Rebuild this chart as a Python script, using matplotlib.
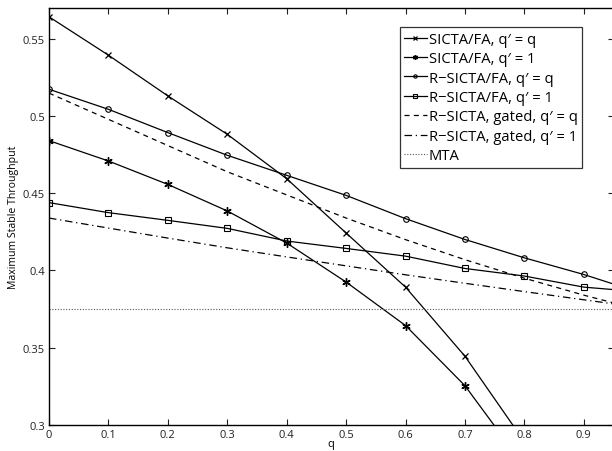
import numpy as np
import matplotlib.pyplot as plt
from matplotlib.ticker import FixedLocator, FuncFormatter

plt.rcParams['font.family'] = ['Open Sans', 'DejaVu Sans']

q = [0.0, 0.1, 0.2, 0.3, 0.4, 0.5, 0.6, 0.7, 0.8, 0.9, 1.0]

sicta_fa_qq = [0.5645, 0.5396, 0.5132, 0.4883, 0.4595, 0.4243, 0.3892, 0.3444, 0.289]
sicta_fa_q1 = [0.4842, 0.4710, 0.4558, 0.4386, 0.4178, 0.3925, 0.3643, 0.3253, 0.273]
rsicta_fa_qq = [0.5175, 0.5045, 0.4894, 0.4747, 0.4617, 0.4487, 0.4336, 0.4201, 0.4082, 0.3974, 0.3850]
rsicta_fa_q1 = [0.4440, 0.4375, 0.4325, 0.4273, 0.4191, 0.4143, 0.4093, 0.4013, 0.3964, 0.3892, 0.3860]
gated_qq = [0.5150, 0.4980, 0.4810, 0.4640, 0.4490, 0.4340, 0.4200, 0.4070, 0.3950, 0.3840, 0.3740]
gated_q1 = [0.4340, 0.4275, 0.4210, 0.4147, 0.4088, 0.4030, 0.3972, 0.3917, 0.3863, 0.3810, 0.3757]
mta = [0.375] * len(q)

fig = plt.figure(figsize=(6.12, 4.52), dpi=100)
ax = fig.add_axes([49 / 612, 26.3 / 452, 564.5 / 612, 416.4 / 452])

lw = 0.9
ax.plot(q[:len(sicta_fa_qq)], sicta_fa_qq, color='k', lw=lw, marker='x', ms=5,
        mew=0.9, label='SICTA/FA, q\u2032 = q')
ax.plot(q[:len(sicta_fa_q1)], sicta_fa_q1, color='k', lw=lw, marker=(6, 2, 0), ms=6,
        mew=1.0, label='SICTA/FA, q\u2032 = 1')
ax.plot(q, rsicta_fa_qq, color='k', lw=lw, marker='o', ms=4, mfc='none',
        mew=0.8, label='R\u2212SICTA/FA, q\u2032 = q')
ax.plot(q, rsicta_fa_q1, color='k', lw=lw, marker='s', ms=3.8, mfc='none',
        mew=0.8, label='R\u2212SICTA/FA, q\u2032 = 1')
ax.plot(q, gated_qq, color='k', lw=lw, ls=(0, (4, 3.5)),
        label='R\u2212SICTA, gated, q\u2032 = q')
ax.plot(q, gated_q1, color='k', lw=lw, ls=(0, (6, 3, 1, 3)),
        label='R\u2212SICTA, gated, q\u2032 = 1')
ax.plot(q, mta, color='#555555', lw=0.8, ls=(0, (1, 1.5)), label='MTA')

ax.set_xlim(0, 0.95)
ax.set_ylim(0.3, 0.57)
ax.xaxis.set_major_locator(FixedLocator(np.arange(0, 1.0, 0.1)))
ax.yaxis.set_major_locator(FixedLocator([0.3, 0.35, 0.4, 0.45, 0.5, 0.55]))
ax.xaxis.set_major_formatter(FuncFormatter(lambda v, p: '%g' % round(v, 2)))
ax.yaxis.set_major_formatter(FuncFormatter(lambda v, p: '%g' % round(v, 2)))
ax.tick_params(direction='in', top=True, right=True, length=4.5, width=0.8,
               labelsize=8, pad=3, colors='#222222')
for s in ax.spines.values():
    s.set_linewidth(1.0)

ax.set_xlabel('q', fontsize=8, labelpad=-1)
ax.set_ylabel('Maximum Stable Throughput', fontsize=7.6, labelpad=3)

leg = ax.legend(loc='upper left', bbox_to_anchor=(351 / 564.5, 1 - 19 / 416.4),
                fontsize=10.6, frameon=True, fancybox=False, edgecolor='k',
                handlelength=1.5, handletextpad=0.15, labelspacing=0.3,
                borderpad=0.3, borderaxespad=0, markerscale=0.6)
leg.get_frame().set_linewidth(0.9)

fig.savefig('out.png', dpi=100)
